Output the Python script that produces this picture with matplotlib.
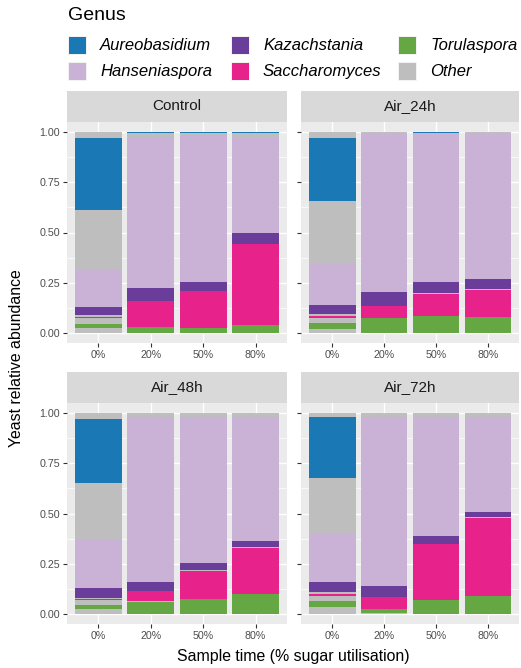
import numpy as np
import matplotlib
matplotlib.use('Agg')
from matplotlib import pyplot as plt
from matplotlib.patches import Rectangle

plt.rcParams['font.family'] = ['Liberation Sans', 'DejaVu Sans']

samples = ['0%', '20%', '50%', '80%']
facets = ['Control', 'Air_24h', 'Air_48h', 'Air_72h']

genera = ['Aureobasidium', 'Kazachstania', 'Torulaspora',
          'Hanseniaspora', 'Saccharomyces', 'Other']
genus_colors = ['#1a78b4', '#6a3d9a', '#65a843',
                '#cab2d6', '#e7228b', '#bebebe']

# stacked segments, bottom to top (several species per genus)
layers = ['Other', 'Torulaspora', 'Other', 'Saccharomyces', 'Other',
          'Kazachstania', 'Hanseniaspora', 'Other', 'Aureobasidium', 'Other']

# rows = samples (0%, 20%, 50%, 80%), columns = layers
control = [
    [0.027, 0.016, 0.030, 0.007, 0.008, 0.040, 0.186, 0.298, 0.360, 0.028],
    [0.000, 0.028, 0.000, 0.130, 0.000, 0.065, 0.752, 0.020, 0.005, 0.000],
    [0.000, 0.027, 0.000, 0.181, 0.000, 0.045, 0.730, 0.012, 0.005, 0.000],
    [0.000, 0.038, 0.000, 0.405, 0.000, 0.055, 0.474, 0.023, 0.005, 0.000],
]
air_24h = [
    [0.018, 0.030, 0.025, 0.010, 0.010, 0.047, 0.208, 0.309, 0.315, 0.028],
    [0.000, 0.073, 0.000, 0.060, 0.000, 0.070, 0.785, 0.012, 0.000, 0.000],
    [0.000, 0.083, 0.000, 0.110, 0.005, 0.055, 0.742, 0.000, 0.005, 0.000],
    [0.000, 0.078, 0.000, 0.135, 0.005, 0.052, 0.722, 0.008, 0.000, 0.000],
]
air_48h = [
    [0.023, 0.020, 0.025, 0.005, 0.008, 0.047, 0.247, 0.276, 0.319, 0.030],
    [0.000, 0.058, 0.005, 0.050, 0.000, 0.045, 0.824, 0.018, 0.000, 0.000],
    [0.000, 0.073, 0.000, 0.140, 0.005, 0.034, 0.730, 0.018, 0.000, 0.000],
    [0.000, 0.098, 0.000, 0.229, 0.005, 0.030, 0.618, 0.020, 0.000, 0.000],
]
air_72h = [
    [0.033, 0.030, 0.025, 0.010, 0.010, 0.050, 0.244, 0.274, 0.304, 0.020],
    [0.005, 0.020, 0.000, 0.058, 0.000, 0.055, 0.842, 0.020, 0.000, 0.000],
    [0.000, 0.068, 0.000, 0.279, 0.000, 0.040, 0.595, 0.018, 0.000, 0.000],
    [0.000, 0.088, 0.000, 0.389, 0.005, 0.025, 0.473, 0.020, 0.000, 0.000],
]
facet_data = [control, air_24h, air_48h, air_72h]

W, H = 521, 668
fig = plt.figure(figsize=(W / 100, H / 100), dpi=100)


def px_axes(x0, y0, x1, y1):
    return fig.add_axes([x0 / W, 1 - y1 / H, (x1 - x0) / W, (y1 - y0) / H])


color_of = dict(zip(genera, genus_colors))
cols = [(67, 287), (301, 519)]
rows = [(91, 122, 343), (372, 403, 624)]

for i, name in enumerate(facets):
    cx0, cx1 = cols[i % 2]
    sy0, py0, py1 = rows[i // 2]

    strip = px_axes(cx0, sy0, cx1, py0)
    strip.set_facecolor('#d9d9d9')
    strip.set_xticks([])
    strip.set_yticks([])
    for s in strip.spines.values():
        s.set_visible(False)
    strip.text(0.5, 0.5, name, ha='center', va='center', fontsize=11,
               color='#1a1a1a', transform=strip.transAxes)

    ax = px_axes(cx0, py0, cx1, py1)
    ax.set_facecolor('#ebebeb')
    vals = np.array(facet_data[i])
    x = np.arange(len(samples))
    bottom = np.zeros(len(samples))
    for j, g in enumerate(layers):
        ax.bar(x, vals[:, j], bottom=bottom, width=0.9,
               color=color_of[g], linewidth=0, zorder=3)
        bottom += vals[:, j]

    ax.set_xlim(-0.6, 3.6)
    ax.set_ylim(-0.05, 1.05)
    ax.set_xticks(x)
    ax.set_xticklabels(samples)
    ax.set_yticks([0, 0.25, 0.5, 0.75, 1.0])
    ax.set_yticks([0.125, 0.375, 0.625, 0.875], minor=True)
    if i % 2 == 0:
        ax.set_yticklabels(['0.00', '0.25', '0.50', '0.75', '1.00'])
    else:
        ax.set_yticklabels([])
    ax.grid(True, which='major', color='white', linewidth=1.0, zorder=0)
    ax.grid(True, which='minor', axis='y', color='white', linewidth=0.5, zorder=0)
    ax.set_axisbelow(True)
    ax.tick_params(axis='both', which='major', length=3, width=0.8,
                   color='#333333', labelsize=7.7, labelcolor='#4d4d4d', pad=2)
    ax.tick_params(axis='y', which='minor', length=0)
    for s in ax.spines.values():
        s.set_visible(False)

fig.text(293 / W, 1 - 657 / H, 'Sample time (% sugar utilisation)',
         ha='center', va='center', fontsize=11.4, color='black')
fig.text(17 / W, 1 - 358 / H, 'Yeast relative abundance', rotation=90,
         ha='center', va='center', fontsize=11.4, color='black')

# legend: three columns, two rows (Aureobasidium/Hanseniaspora, ...)
fig.text(68 / W, 1 - 16 / H, 'Genus', ha='left', va='center', fontsize=14)
key_x = [69, 232, 399]
text_x = [100, 263, 430]
row_y = [45.5, 71.5]
for k, g in enumerate(genera):
    c, r = k % 3, k // 3
    fig.patches.append(Rectangle(((key_x[c] - 1) / W, 1 - (row_y[r] + 9.5) / H),
                                 19 / W, 19 / H, transform=fig.transFigure,
                                 facecolor='#f2f2f2', edgecolor='none'))
    fig.patches.append(Rectangle((key_x[c] / W, 1 - (row_y[r] + 8.5) / H),
                                 17 / W, 17 / H, transform=fig.transFigure,
                                 facecolor=genus_colors[k], edgecolor='none'))
    fig.text(text_x[c] / W, 1 - row_y[r] / H, g, ha='left', va='center',
             fontsize=12, style='italic')

fig.savefig('out.png', dpi=100)
